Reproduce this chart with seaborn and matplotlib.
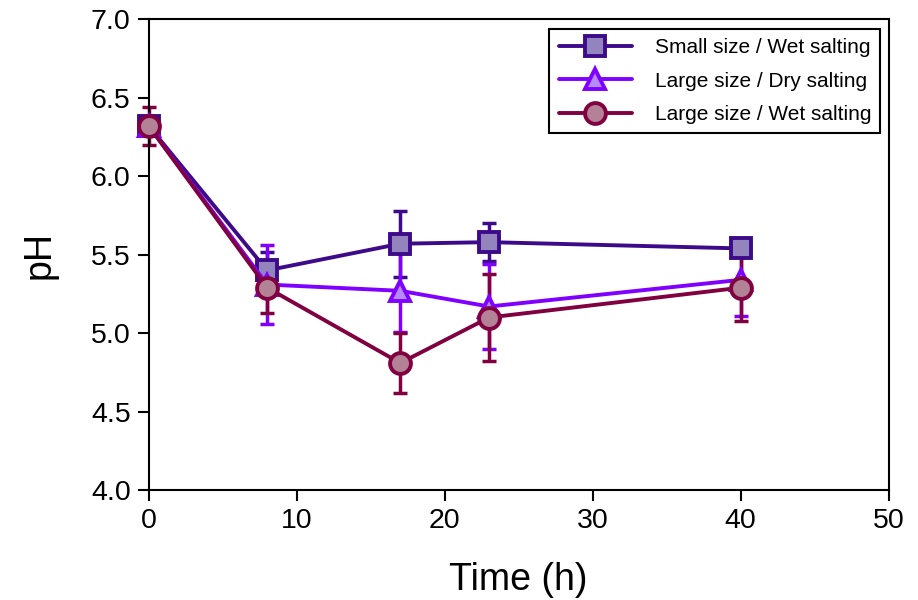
import pandas as pd
import matplotlib
matplotlib.use("Agg")
import matplotlib.pyplot as plt
import seaborn as sns

time_h = [0, 8, 17, 23, 40]
series_names = ["Small size / Wet salting", "Large size / Dry salting", "Large size / Wet salting"]

small_wet = [6.32, 5.40, 5.57, 5.58, 5.54]
small_wet_err = [0.05, 0.12, 0.21, 0.12, 0.03]
large_dry = [6.32, 5.31, 5.27, 5.17, 5.34]
large_dry_err = [0.05, 0.25, 0.26, 0.27, 0.23]
large_wet = [6.32, 5.29, 4.81, 5.10, 5.29]
large_wet_err = [0.12, 0.16, 0.19, 0.28, 0.21]

line_colors = ["#3d0a8a", "#8000ff", "#800040"]
face_colors = ["#9384bd", "#b58aff", "#b48296"]
markers = ["s", "^", "o"]

rows = []
for name, vals, errs in zip(series_names, [small_wet, large_dry, large_wet],
                            [small_wet_err, large_dry_err, large_wet_err]):
    for t, v, e in zip(time_h, vals, errs):
        rows.append({"Time": t, "pH": v, "err": e, "series": name})
df = pd.DataFrame(rows)

sns.set_style("ticks")
plt.rcParams["font.family"] = ["Liberation Sans", "DejaVu Sans"]
plt.rcParams.update({"text.color": "black", "axes.labelcolor": "black",
                     "xtick.color": "black", "ytick.color": "black"})

fig, ax = plt.subplots(figsize=(9.18, 6), dpi=100)
fig.subplots_adjust(left=0.162, right=0.968, top=0.968, bottom=0.183)

for i, name in enumerate(series_names):
    sub = df[df["series"] == name]
    ax.errorbar(sub["Time"], sub["pH"], yerr=sub["err"], fmt="none",
                ecolor=line_colors[i], elinewidth=2.5, capsize=5, capthick=2.5,
                zorder=2, clip_on=False)
    sns.lineplot(data=sub, x="Time", y="pH", ax=ax, color=line_colors[i],
                 marker=markers[i], markersize=15, markerfacecolor=face_colors[i],
                 markeredgecolor=line_colors[i], markeredgewidth=2.8, linewidth=2.8,
                 label=name, zorder=3, clip_on=False)

ax.set_xlim(0, 50)
ax.set_ylim(4.0, 7.0)
ax.set_xticks([0, 10, 20, 30, 40, 50])
ax.set_yticks([4.0, 4.5, 5.0, 5.5, 6.0, 6.5, 7.0])
ax.set_yticklabels([f"{v:.1f}" for v in [4.0, 4.5, 5.0, 5.5, 6.0, 6.5, 7.0]])
ax.set_xlabel("Time (h)", fontsize=27, labelpad=20)
ax.set_ylabel("pH", fontsize=27, labelpad=24)
ax.tick_params(labelsize=20.5, width=1.5, length=8, direction="out", pad=5)
for sp in ax.spines.values():
    sp.set_linewidth(1.5)
    sp.set_color("black")

leg = ax.legend(loc="upper right", fontsize=15, frameon=True, fancybox=False,
                edgecolor="black", handlelength=3.5, borderpad=0.45, labelspacing=0.68,
                handletextpad=1.1, framealpha=1, borderaxespad=0,
                bbox_to_anchor=(0.989, 0.979))
leg.get_frame().set_linewidth(1.5)

fig.savefig("out.png", dpi=100)
